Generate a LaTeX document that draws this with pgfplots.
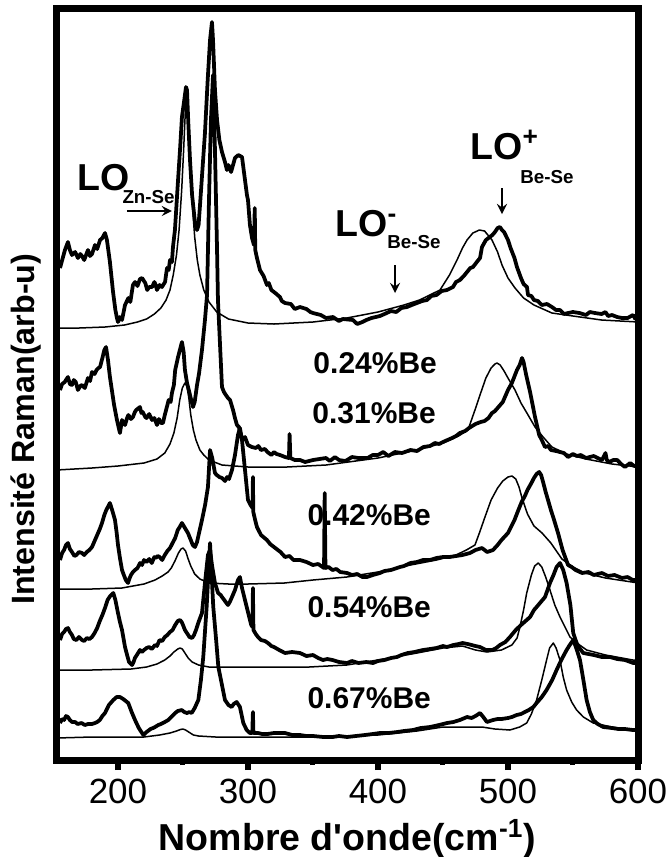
\documentclass[border=0pt]{standalone}
\usepackage{pgfplots}
\pgfplotsset{compat=1.18}
\usepackage{fontspec}
\setmainfont{Liberation Sans}
\begin{document}
\begin{tikzpicture}
\begin{axis}[
    at={(0,0)}, anchor=south west,
    scale only axis,
    width=232.8pt, height=300.6pt,
    xmin=152.7, xmax=600.4,
    ymin=8.5, ymax=760, y dir=reverse,
    xtick={200,300,400,500,600},
    minor x tick num=1,
    ytick=\empty,
    xtick pos=bottom,
    tick align=outside,
    major tick length=4pt, minor tick length=2pt,
    every major tick/.append style={line width=2.4pt, black},
    every minor tick/.append style={line width=2pt, black},
    axis line style={line width=2.8pt},
    /pgf/number format/assume math mode=true,
    xticklabel style={font=\fontsize{14}{14}\selectfont},
    xlabel={Nombre d\textquotesingle onde(cm\textsuperscript{-1})},
    xlabel style={at={(axis description cs:0.5,-0.12)}, anchor=base,
        font=\fontsize{15}{15}\selectfont\bfseries},
    ylabel={Intensité Raman(arb-u)},
    ylabel style={at={(axis description cs:-0.052,0.44)}, anchor=center,
        font=\fontsize{12.9}{12.9}\selectfont\bfseries},
    spec/.style={black, line width=1.5pt, line join=round},
    fit/.style={black, line width=0.6pt, line join=round},
]
% --- 0.24 % Be (top) ---
\addplot[spec] coordinates {(155.4,268) (157.5,258) (159.2,250) (161.5,242) (163,250) (164.6,255) (167,252) (169.2,258) (171,254) (172.3,256) (174,260) (176.9,250) (178.5,256) (180,254) (182.3,245) (184,249) (186.2,240) (188,238) (190,233) (191.5,240) (193.8,262) (196.2,292) (198,310) (199.2,318) (200,322) (201.5,317) (203.1,320) (205.4,305) (208,298) (209.5,302) (211.5,285) (213.1,282) (215,286) (216.9,279) (218.5,278) (221,283) (222.5,290) (224,287) (226.2,287) (228,282) (229,285) (230,290) (232,285) (233.8,287) (236.2,282) (237.7,268) (239,270) (240,260) (241.5,262) (242.3,247) (243.8,230) (246.2,180) (247.7,150) (249.2,117) (251.5,95) (252.3,87) (253.1,90) (254,120) (255.4,160) (257,195) (259.2,222) (260.8,230) (262,225) (263.1,205) (266.9,133) (269,80) (270.8,40) (272.3,22) (273.1,40) (274.6,90) (276.2,120) (278,140) (280,152) (282.3,162) (283.8,170) (285,165) (287,172) (288.5,165) (290,158) (292.5,155) (295.4,157) (297.7,180) (299.2,195) (300,200) (301.5,225) (303.1,238) (304.6,245) (305.2,208) (305.6,250) (306.9,258) (309.2,270) (312,276) (314.6,285) (316,283) (318,290) (321,293) (324.6,297) (326,301) (328.5,303) (333,304) (336,309) (340,307) (345,309) (348,312) (350,313) (356,315) (360,318) (365.4,317) (370,321) (373,319) (380.8,320) (384,324) (388,322) (391,320) (395,318) (401.5,316) (405,314) (410,311) (414,312) (418,308) (422.3,307) (426,305) (430,303) (434,301) (437.7,300) (441,296) (445,295) (449,291) (453.1,290) (457.7,287) (460,282) (463,280) (466,276) (468.5,272) (471,268) (473.1,267) (476,262) (478.5,258) (480,247) (483,240) (486,237) (488,235) (490,232) (492,228) (493.8,227) (495.4,230) (497,232) (500,240) (502,248) (505,258) (506.9,267) (510,278) (512,284) (514.6,287) (515.4,295) (518,296) (520,300) (523,301) (526,305) (530,304) (533.8,307) (537,310) (540,310) (543,314) (546.2,313) (550,312) (555,313) (560,315) (563,312) (566.9,313) (572,314) (575,312) (577,316) (580,315) (584,317) (587.7,318) (592,318) (596.2,315) (598,319) (600.4,318)};
\addplot[fit] coordinates {(152.7,328) (170,328) (190,327) (205,325) (215,322) (222,319) (228,314) (233,308) (237,300) (240,290) (242.5,275) (245,255) (247,230) (249,190) (250.5,150) (251.5,120) (252.3,100) (253.5,107) (254.5,130) (256,175) (257.5,210) (259,237) (261,260) (263,275) (266,290) (270,302) (276,312) (285,319) (300,323) (320,324) (350,322) (376,318) (400,312) (420,305) (432,300) (447.7,290) (455,275) (460.8,260) (465,248) (468.5,240) (473,233) (478,230) (482,231) (487.7,240) (492,252) (495.4,265) (500,278) (505.4,288) (512,298) (520,305) (533.8,313) (550,316) (572,320) (600.4,322)};
% --- 0.31 % Be ---
\addplot[spec] coordinates {(155.4,390) (157,384) (159,382) (161.5,377) (163,384) (164.6,385) (166,380) (167.5,382) (169.2,390) (171,386) (172.3,385) (174.5,388) (176.9,378) (178.5,381) (180,372) (182,374) (183.5,370) (185,368) (186.2,367) (188,358) (189.5,350) (190.8,347) (192.3,360) (193.8,377) (197,405) (199.2,420) (201.5,433) (202.5,425) (203.1,420) (205.4,425) (207,418) (208,415) (210,419) (211.5,417) (213,412) (214,410) (216.9,407) (218,413) (219,412) (221,417) (222,418) (224,414) (226.2,420) (228,418) (230,425) (231.5,419) (233,423) (234.6,423) (236,415) (237,410) (239,400) (240.5,402) (241.5,393) (243,385) (244,370) (246.2,357) (248,348) (249.2,342) (250.5,352) (251.5,370) (253.1,383) (255.4,395) (257.7,407) (259,402) (260.8,385) (262.4,373) (264.6,350) (266.9,320) (268.5,295) (270,200) (271.5,120) (273.1,75) (274.6,150) (276.2,250) (276.9,300) (278.5,345) (280,387) (281.5,392) (283,395) (284.6,398) (286.2,400) (288.5,410) (290,418) (291.5,425) (293,427) (294.6,435) (296,440) (297.7,437) (300,445) (303,447) (306,448) (308,446) (310,450) (313,449) (315,452) (318,455) (320,452) (322,454) (324.6,455) (328.5,457) (331.5,458) (332,434) (332.6,458) (336,460) (340,460) (344,462) (350,460) (355,459) (360,458) (363,461) (366.9,457) (370,460) (375,461) (380,457) (385,458) (392,458) (396,455) (400,455) (404,452) (408,456) (413,452) (418.5,453) (425,450) (430,451) (435,447) (440,446) (443.8,443) (447,444) (450,442) (457,438) (460,436) (463,433) (467,431) (470,428) (475,424) (479,422) (482,421) (485,418) (487.7,413) (490,411) (492,408) (496,402) (500,390) (503,383) (506.9,370) (509,365) (510.8,358) (512,362) (514,375) (517,392) (520.8,417) (524,435) (526,440) (528.5,447) (531,446) (533,450) (537,451) (540,452) (543,453) (546.2,457) (550,454) (553,456) (556,455) (560,458) (566,456) (569,458) (572.3,460) (575,453) (576,460) (578,462) (581,460) (584,460) (587,464) (590,467) (594,463) (597,466) (600.4,465)};
\addplot[fit] coordinates {(152.7,470) (180,468) (200,466) (220,463) (230,459) (236,453) (240,444) (243,433) (245.5,418) (247.5,400) (249.5,388) (251.5,383) (253,386) (254.5,398) (256,415) (258,430) (260,440) (263,450) (266,455) (270,460) (280,465) (300,467) (330,467) (360,465) (400,458) (430,450) (450,443) (462,436) (469.2,430) (474.6,410) (479,393) (483,378) (487,368) (490,364) (491.5,363) (494,365) (497,371) (500,378) (505.4,390) (510,403) (515,414) (520.8,427) (527,437) (533.8,447) (545,454) (560,459) (580,464) (600.4,467)};
% --- 0.42 % Be ---
\addplot[spec] coordinates {(155.4,560) (157,553) (158.5,550) (160,545) (161.5,543) (163,549) (164.6,552) (166.5,556) (168,555) (170,552) (172.3,553) (174,555) (176,552) (178,550) (180,547) (182,541) (184,535) (186,529) (187.7,523) (189.5,515) (191,510) (193.8,503) (195.5,510) (197.7,520) (199,533) (200,545) (201.5,558) (203.1,570) (204.5,575) (206,580) (207.7,583) (209,578) (210,575) (211.5,572) (213.1,570) (215,568) (217,563) (218.5,565) (220,560) (222,562) (224,559) (226,563) (228,557) (229,558) (230.5,556) (232,557) (234,560) (236,555) (238,551) (240,548) (242,543) (244,538) (246,530) (247.5,527) (249.2,523) (251.5,528) (253.8,533) (256,540) (257.5,545) (259.2,547) (260.8,542) (262,535) (264.6,520) (267,505) (269.2,487) (270.8,450) (272.5,458) (274.6,473) (276,475) (278,477) (280,478) (282.3,481) (284,477) (285.4,479) (287.7,470) (290,455) (292.3,435) (293.8,428) (295.4,440) (297.7,470) (300,500) (302,505) (303.5,508) (303.8,477) (304.1,512) (305.5,520) (306.9,527) (310,535) (314.6,540) (317,544) (320,547) (325,552) (328.5,557) (332,556) (335,560) (340,560) (345,562) (350,565) (354,564) (358.5,568) (359,493) (359.6,568) (362,567) (365,570) (368,569) (371,572) (376.2,573) (380,575) (384,574) (388,577) (391.5,577) (396,575) (401.5,573) (405,571) (410,570) (416.9,567) (420,566) (425,563) (430,562) (434.6,560) (440,560) (445,558) (450,557) (455,557) (460,556) (465,555) (470.8,553) (475,550) (480,548) (484,552) (488.5,550) (492,545) (495,540) (500,533) (505,520) (508,510) (510.5,502) (513,496) (515,490) (518,483) (520,478) (522,474) (524,472) (525.5,475) (527,482) (529,492) (530.8,500) (533,510) (535,518) (538.5,533) (542,550) (546.2,565) (549,567) (552,570) (557,573) (562,572) (566,575) (572.3,573) (577,576) (582,575) (587.7,578) (592,577) (596,580) (600.4,580)};
\addplot[fit] coordinates {(152.7,589) (180,589) (203,588) (220,584) (228.5,580) (234,576) (238.5,572) (241,568) (243.8,561) (246.5,553) (248.5,549) (250,548) (252,551) (254,559) (256,566) (259,574) (263,579) (270,583) (285,584) (300,584) (328,583) (350,580) (376,577) (400,572) (425,565) (445,560) (460,555) (468,550) (474.6,545) (478,533) (482.3,517) (487,500) (492,488) (496,481) (500,477) (503.1,476) (506,479) (508.5,487) (510.8,498) (515,514) (520,526) (526.2,533) (533,543) (541.5,559) (550,567) (559.2,573) (575,578) (600.4,583)};
% --- 0.54 % Be ---
\addplot[spec] coordinates {(155.4,640) (157,634) (158.5,632) (160,629) (161.5,628) (163,632) (164.6,635) (166,639) (168,640) (170,637) (172.3,640) (174,641) (176,638) (178,639) (180,637) (182,633) (184,628) (186,621) (188,615) (190,608) (192,600) (194,596) (196.4,593) (198,600) (200,613) (201.5,622) (203.1,630) (205.4,647) (207,655) (208.5,662) (210.8,665) (212,662) (213,658) (215,654) (216.9,650) (218.5,652) (220,650) (222,648) (224,647) (226,649) (228.5,645) (230,646) (232,640) (234,641) (236,637) (238,635) (240,632) (242,630) (244,625) (246,621) (247.7,620) (249,622) (250,625) (251.5,630) (253,633) (255,637) (257,638) (258.5,635) (260,630) (262,622) (264.6,613) (266.9,583) (269.2,555) (270.8,550) (272.3,565) (274.6,583) (277,593) (279,595) (280,597) (282.3,601) (284.6,605) (286,602) (287.7,597) (290,590) (292.3,580) (293.8,577) (295.4,588) (297.7,600) (300,612) (302.5,625) (303.5,627) (303.8,588) (304.2,630) (306,634) (307.7,637) (310,640) (313,641) (315.4,643) (318,646) (320,647) (324,650) (328.5,653) (334,652) (340,653) (345,656) (350,655) (354,658) (357.7,660) (361,659) (365,660) (370,662) (376.2,663) (380,661) (385,663) (391,662) (396.2,663) (400,661) (405,660) (410,658) (414.6,657) (418,655) (423,653) (428,652) (434.6,650) (440,649) (445,648) (450,646) (453.1,647) (458,645) (462,644) (465,643) (469,644) (472,645) (475,646) (478.5,647) (483,650) (488,650) (491,648) (493.8,645) (498,642) (501.5,637) (506,630) (510,625) (514.4,620) (517,617) (520,610) (522,607) (524.6,603) (528.5,597) (532.3,583) (535,575) (537.4,567) (540,563) (542.5,570) (545.1,583) (548,605) (550.2,633) (552.8,643) (555,648) (557.9,653) (562,654) (566,655) (572.3,657) (578.5,657) (584,659) (590,660) (596.4,663) (600.4,663)};
\addplot[fit] coordinates {(152.7,670) (180,670) (210,669) (222,667) (230,664) (236,660) (240,656) (243,652) (246,649) (247.7,648) (249.5,649) (251.5,653) (254,658) (257,662) (262,665) (270,667) (300,667) (347,667) (376,665) (400,660) (430,653) (450,648) (465,646) (475,650) (483.8,652) (495,650) (503,645) (507,638) (509.2,627) (512,610) (514.4,593) (518,575) (520.5,566) (523.3,563) (526,567) (529,577) (532.3,590) (536,605) (540,617) (547.7,637) (553,643) (560.5,650) (575,655) (596,660) (600.4,660)};
% --- 0.67 % Be ---
\addplot[spec] coordinates {(155.4,723) (157,719) (158.5,720) (160,716) (161.5,717) (163,720) (164.6,722) (167,722) (169,724) (172,723) (174.5,725) (177,724) (180,724) (182.3,723) (184,722) (186,720) (188,716) (190,713) (193,705) (196.4,700) (199,697) (201.5,697) (204,699) (207.9,703) (210.5,712) (213.1,720) (216,728) (219.5,735) (222,732) (224,730) (225,729) (227,728) (228.5,727) (231,725) (233,724) (236,722) (238.7,720) (241,717) (244,713) (246,711) (249,710) (251,712) (253,713) (255,712) (256.7,713) (259,708) (261.8,700) (263.8,680) (265.6,657) (268.2,607) (270.8,543) (273.3,607) (275.5,640) (277.2,667) (280,685) (282.3,700) (285,705) (287.4,707) (289,704) (291.3,702) (293.8,707) (296.4,723) (299,730) (301.5,733) (303.3,733) (303.8,712) (304.2,733) (307.7,733) (311,734) (315,734) (320,733) (328.5,733) (334,735) (340,735) (345,736) (350,736) (358,737) (365,737) (370,736) (376.2,737) (383,736) (390,735) (396,734) (401.5,733) (408,733) (415,732) (420,731) (426.9,730) (433,728) (440,727) (447,725) (453.1,723) (458,722) (463,720) (468.5,717) (472,718) (475,716) (478.5,713) (481,717) (483.8,722) (488.5,720) (492,719) (495,719) (500,718) (503,717) (506.7,715) (510,714) (513,712) (516,710) (519.5,707) (522,703) (526,697) (529.7,690) (534,680) (537.4,670) (541,660) (545.1,650) (547.5,645) (550.2,640) (552.5,648) (555.4,660) (558,680) (560.5,700) (563,712) (565.6,720) (569,724) (573.3,727) (580,728) (585,729) (590,729) (596,730) (600.4,730)};
\addplot[fit] coordinates {(152.7,738) (180,737) (220,737) (232,735) (240,733) (245,731) (248,729.5) (250,729) (252,730) (255,732.5) (258,735) (262,736) (275,737) (300,737) (350,737) (400,735) (430,731) (450,727) (470,727) (480,727) (490,729) (501.5,730) (509,727) (514.4,723) (518,714) (522,700) (526,680) (529.7,660) (532,648) (534.9,643) (537,648) (540,660) (542.5,677) (545.1,690) (549,702) (552.8,710) (558,717) (565.6,723) (580,727) (596,730) (600.4,730)};
% --- annotations ---
\node[anchor=base west, inner sep=0, font=\fontsize{15}{15}\selectfont\bfseries] at (axis cs:168.5,190) {LO};
\node[anchor=base west, inner sep=0, font=\fontsize{7.5}{7.5}\selectfont\bfseries] at (axis cs:203.1,203) {Zn-Se};
\draw[-stealth, line width=0.8pt] (axis cs:206.9,211) -- (axis cs:241.5,211);
\node[anchor=base west, inner sep=0, font=\fontsize{15}{15}\selectfont\bfseries] at (axis cs:366.9,236) {LO\textsuperscript{-}};
\node[anchor=base west, inner sep=0, font=\fontsize{7.5}{7.5}\selectfont\bfseries] at (axis cs:406.9,248) {Be-Se};
\draw[-stealth, line width=0.8pt] (axis cs:413.1,265) -- (axis cs:413.1,293);
\node[anchor=base west, inner sep=0, font=\fontsize{15}{15}\selectfont\bfseries] at (axis cs:470.8,159) {LO\textsuperscript{+}};
\node[anchor=base west, inner sep=0, font=\fontsize{7.5}{7.5}\selectfont\bfseries] at (axis cs:509.2,183) {Be-Se};
\draw[-stealth, line width=0.8pt] (axis cs:495.4,188) -- (axis cs:495.4,214);
\node[anchor=base west, inner sep=0, font=\fontsize{12}{12}\selectfont\bfseries] at (axis cs:350,373) {0.24\%Be};
\node[anchor=base west, inner sep=0, font=\fontsize{12}{12}\selectfont\bfseries] at (axis cs:349.2,423) {0.31\%Be};
\node[anchor=base west, inner sep=0, font=\fontsize{12}{12}\selectfont\bfseries] at (axis cs:345.4,525) {0.42\%Be};
\node[anchor=base west, inner sep=0, font=\fontsize{12}{12}\selectfont\bfseries] at (axis cs:345.4,617) {0.54\%Be};
\node[anchor=base west, inner sep=0, font=\fontsize{12}{12}\selectfont\bfseries] at (axis cs:345.4,708) {0.67\%Be};
\end{axis}
\pgfresetboundingbox
\path[use as bounding box] (-22.6pt,-38.8pt) rectangle (245.4pt,304pt);
\end{tikzpicture}
\end{document}
